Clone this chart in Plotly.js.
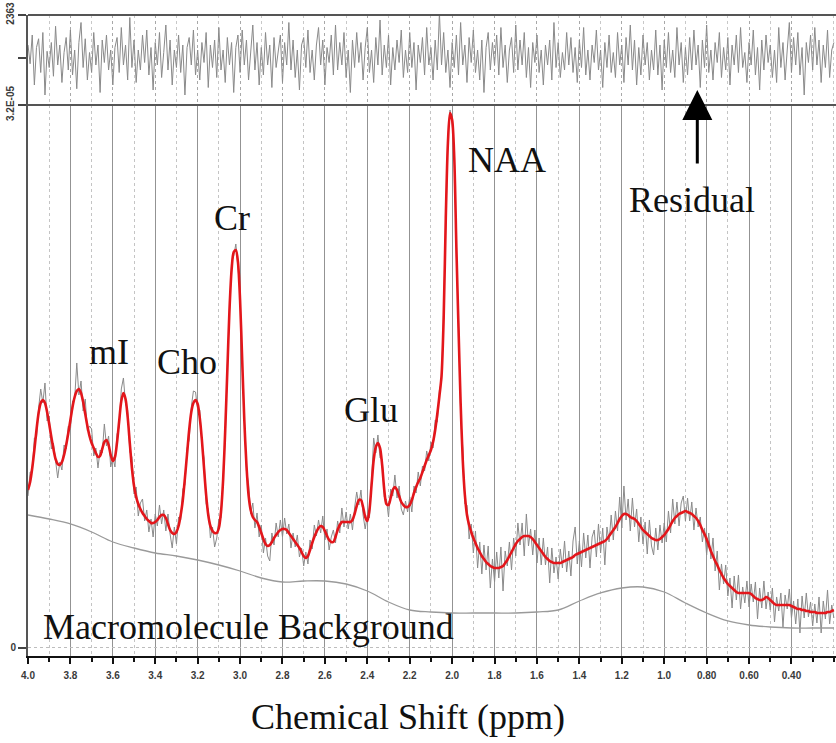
<!DOCTYPE html>
<html>
<head>
<meta charset="utf-8">
<script src="https://cdn.plot.ly/plotly-3.0.1.min.js"></script>
<style>html,body{margin:0;padding:0;background:#fff;}#chart{width:836px;height:743px;}</style>
</head>
<body>
<div id="chart"></div>
<script>
// Spectral grid: 4.00 ppm down to 0.20 ppm in 0.01 ppm steps (one value per sample below)
const PPM_START = 4.0;
const PPM_STEP = 0.01;

// LCModel fit (red), arbitrary units
const fit = [
158,166,180,198,218,235,245,248,245,236,
224,211,199,189,184,183,186,193,203,215,
228,241,251,257,259,255,246,234,222,212,
205,200,195,191,192,199,206,208,203,193,
187,191,206,227,247,255,249,231,205,180,
162,151,144,139,135,132,129,127,125,125,
126,128,131,133,133,130,124,118,115,114,
116,122,133,148,170,194,218,236,245,248,
244,230,208,180,153,133,122,117,115,115,
120,136,168,218,278,338,378,396,398,386,
348,288,228,183,153,138,131,128,126,121,
115,109,104,102,103,106,110,113,116,118,
119,119,118,115,112,109,106,103,100,96,
92,90,92,98,105,111,116,120,122,121,
117,112,108,106,106,111,118,123,126,126,
126,126,126,128,134,142,148,148,141,131,
127,138,163,188,201,205,200,183,158,144,
143,150,158,161,158,152,146,143,141,141,
143,148,155,161,166,170,176,182,188,193,
198,206,218,234,252,272,330,430,505,535,
528,490,400,320,245,188,153,133,123,116,
110,105,100,96,92,89,86,84,82,81,
80,80,80,81,82,85,88,92,96,100,
104,107,109,111,112,112,112,111,109,106,
103,100,97,94,91,89,87,86,85,85,
85,85,86,87,88,89,90,91,93,94,
95,96,97,98,99,100,101,102,103,104,
105,106,107,109,112,115,118,121,125,129,
132,134,134,133,131,130,129,127,124,121,
118,116,114,112,110,109,108,108,109,111,
113,116,119,123,127,130,132,134,135,136,
137,136,135,134,132,130,127,123,118,114,
109,103,97,92,87,83,78,74,70,67,
64,62,60,58,56,55,55,55,55,55,
55,54,52,50,49,48,48,49,51,50,
48,46,44,43,43,43,43,43,43,43,
42,41,40,39,39,38,38,37,37,36,
36,36,35,35,35,35,35,36,36,37,
38];

// Measured spectrum (grey, noisy)
const data = [
152,176,176,210,210,240,259,245,265,227,
232,199,205,184,170,186,178,203,199,222,
218,247,249,285,253,267,237,249,217,222,
219,192,200,180,198,195,224,202,212,181,
191,181,214,221,259,270,244,238,196,191,
154,161,132,145,149,127,138,116,129,111,
134,122,143,124,138,117,134,114,100,121,
104,131,128,159,163,200,208,241,257,256,
238,238,204,190,144,139,110,121,101,110,
129,130,175,210,283,332,386,392,404,381,
355,283,237,177,165,134,145,120,135,111,
123,95,110,92,87,115,103,125,111,128,
111,130,114,124,100,115,101,113,91,100,
82,96,84,108,99,123,112,128,115,132,
108,119,98,111,118,105,127,115,140,121,
136,119,134,118,140,156,143,158,133,119,
133,130,168,210,195,213,190,189,151,149,
131,159,152,173,150,162,139,133,147,136,
151,136,162,155,176,162,182,177,197,187,
206,200,228,226,258,267,338,424,509,538,
524,496,392,327,235,200,144,143,109,124,
95,117,80,106,74,103,78,102,60,89,
66,96,70,101,57,97,82,106,78,110,
92,125,103,125,92,134,102,119,93,118,
85,110,83,110,83,101,65,100,75,91,
69,99,80,107,76,97,72,107,121,84,
107,81,115,90,113,80,111,118,91,124,
95,120,83,121,106,133,108,137,117,151,
120,162,128,149,117,150,121,139,106,131,
104,126,94,128,102,93,120,98,123,105,
125,106,137,115,149,124,146,122,145,152,
127,150,127,146,118,140,121,131,106,120,
93,115,89,110,77,97,58,84,64,83,
52,70,40,72,48,73,39,61,45,67,
41,64,46,66,29,60,40,67,39,56,
38,60,26,51,37,55,21,53,39,59,
30,47,24,49,15,52,30,55,31,46,
22,44,25,51,15,47,29,58,24,43,
30];

// Residual (top panel)
const residual = [
10,-5,18,-22,8,15,-12,20,-30,5,
-8,12,-15,25,-6,10,-20,4,16,-10,
22,-14,6,-25,12,28,-8,15,-18,4,
-12,20,-6,10,-28,14,-4,18,-10,6,
-22,8,16,-12,24,-6,10,-18,32,-8,
14,-20,6,-10,18,-4,22,-14,8,-26,
12,-6,20,-16,4,26,-10,14,-22,6,
-8,18,-12,10,-30,8,16,-6,22,-14,
6,-18,12,-4,20,-24,10,-8,14,-16,
24,-10,6,-20,16,-6,12,-28,8,18,
-12,22,-6,14,-18,4,26,-10,12,-22,
8,-14,20,-6,10,-24,16,-8,4,18,
-20,12,-6,28,-10,14,-16,6,-26,10,
16,-8,22,-12,6,-18,10,24,-6,14,
-22,8,-4,18,-14,26,-10,12,-6,20,
-16,6,-28,14,-8,20,-4,12,-18,8,
24,-12,6,-20,16,-6,30,-14,10,-8,
18,-22,8,-10,14,-4,22,-16,6,-12,
20,-8,12,-26,10,-4,16,-14,24,-6,
8,-18,14,-10,36,-6,20,-12,6,-24,
12,-8,18,-14,28,-6,10,-20,16,-4,
22,-12,6,-18,14,-28,8,20,-10,12,
-6,18,-14,24,-8,10,-20,6,16,-12,
26,-10,14,-6,20,-16,8,-24,12,-4,
18,-12,6,-22,10,-6,14,-18,28,-8,
12,-16,4,-10,20,-6,16,-12,8,-20,
14,-8,24,-14,6,-18,10,-4,22,-10,
6,-24,12,-8,18,-12,4,-16,20,-6,
10,-20,16,-6,26,-10,14,-22,8,-14,
18,-6,12,-18,6,-10,22,-14,10,-26,
14,-8,20,-12,6,-16,24,-6,12,-20,
8,-14,16,-10,22,-6,10,-24,14,-8,
26,-12,6,-18,12,-4,20,-16,8,-10,
16,-22,10,-6,18,-12,24,-8,4,-20,
12,-6,22,-14,8,-26,14,-10,18,-4,
10,-16,6,-20,24,-8,12,-18,6,28,
-12,16,-6,20,-14,8,-30,12,-4,18,
-10,24,-6,14,-20,10,-8,22,-16,6,
12];

// Macromolecule background (smooth grey)
const bgPpm = [4.0,3.9,3.8,3.7,3.6,3.5,3.4,3.3,3.2,3.1,3.0,2.9,2.8,2.7,2.6,2.5,2.4,2.3,2.2,2.1,2.0,1.9,1.8,1.7,1.6,1.5,1.4,1.3,1.2,1.1,1.0,0.9,0.8,0.7,0.6,0.5,0.4,0.3,0.2];
const background = [133,129,124,116,106,100,95,92,88,83,77,70,66,67,67,64,57,46,38,36,35,35,35,35,36,38,47,55,60,61,56,45,35,27,23,21,20,20,20];

// Tick labels
const xTickVals = [4.0,3.8,3.6,3.4,3.2,3.0,2.8,2.6,2.4,2.2,2.0,1.8,1.6,1.4,1.2,1.0,0.8,0.6,0.4];
const xTickText = ['4.0','3.8','3.6','3.4','3.2','3.0','2.8','2.6','2.4','2.2','2.0','1.8','1.6','1.4','1.2','1.0','0.80','0.60','0.40'];
const resTickText = ['3.2E-05','','2363'];

const ppm = fit.map((_, i) => +(PPM_START - i * PPM_STEP).toFixed(2));

const traces = [
  {x: ppm, y: data, type: 'scatter', mode: 'lines', line: {color: '#8a8a8a', width: 1}, hoverinfo: 'skip'},
  {x: bgPpm, y: background, type: 'scatter', mode: 'lines', line: {color: '#9a9a9a', width: 1.3, shape: 'spline'}, hoverinfo: 'skip'},
  {x: ppm, y: fit, type: 'scatter', mode: 'lines', line: {color: '#e3161b', width: 2.6, shape: 'spline', smoothing: 0.8}, hoverinfo: 'skip'},
  {x: ppm, y: residual, xaxis: 'x2', yaxis: 'y2', type: 'scatter', mode: 'lines', line: {color: '#8a8a8a', width: 1}, hoverinfo: 'skip'}
];

const serif = 'Liberation Serif, Times New Roman, serif';
const labelFont = {family: serif, size: 36, color: '#111'};
const tickFont = {family: 'Liberation Sans, Arial, sans-serif', size: 10, color: '#3a3a3a', weight: 'bold'};
const split = 0.8596;

const layout = {
  width: 836, height: 743,
  margin: {l: 28, r: 0, t: 15, b: 87},
  paper_bgcolor: '#fff', plot_bgcolor: '#fff',
  showlegend: false,
  xaxis: {
    domain: [0, 1], anchor: 'y', range: [4.0, 0.19], autorange: false,
    tickmode: 'array', tickvals: xTickVals, ticktext: xTickText,
    ticks: 'outside', ticklen: 6, tickwidth: 2, tickcolor: '#111',
    ticklabelstandoff: 3,
    showline: true, linecolor: '#111', linewidth: 2,
    showgrid: true, gridcolor: '#939393', gridwidth: 1,
    zeroline: false,
    tickfont: tickFont,
    minor: {dtick: 0.1, tick0: 0, ticks: 'outside', ticklen: 4, tickwidth: 2, tickcolor: '#111',
            showgrid: true, gridcolor: '#c4c4c4', griddash: 'dot', gridwidth: 1}
  },
  xaxis2: {
    domain: [0, 1], anchor: 'y2', matches: 'x', range: [4.0, 0.19], autorange: false,
    tickmode: 'array', tickvals: xTickVals, showticklabels: false, ticks: '',
    showgrid: true, gridcolor: '#a8a8a8', griddash: 'dot', gridwidth: 1,
    zeroline: false, showline: false,
    minor: {dtick: 0.1, tick0: 0, showgrid: true, gridcolor: '#c8c8c8', griddash: 'dot', gridwidth: 1}
  },
  yaxis: {
    domain: [0, split], range: [-8, 543], autorange: false,
    tickmode: 'array', tickvals: [0], ticktext: ['0'],
    ticks: 'outside', ticklen: 8, tickwidth: 2, tickcolor: '#444',
    showline: true, linecolor: '#555', linewidth: 2,
    showgrid: true, gridcolor: '#bdbdbd', griddash: 'dot',
    zeroline: false,
    tickfont: tickFont
  },
  yaxis2: {
    domain: [split, 1], range: [-38, 34], autorange: false,
    tickmode: 'array', tickvals: [-38, 0, 34], ticktext: resTickText, tickangle: -90,
    ticks: 'outside', ticklen: 8, tickwidth: 2, tickcolor: '#444',
    showline: true, linecolor: '#555', linewidth: 2,
    showgrid: false, zeroline: false,
    tickfont: tickFont
  },
  shapes: [
    {type: 'line', xref: 'paper', yref: 'paper', x0: 0, x1: 1, y0: 1, y1: 1, line: {color: '#555', width: 2}},
    {type: 'line', xref: 'paper', yref: 'paper', x0: 0, x1: 1, y0: split, y1: split, line: {color: '#555', width: 2}}
  ],
  annotations: [
    {text: 'NAA', x: 1.741, y: 488, xref: 'x', yref: 'y', showarrow: false, font: labelFont, xanchor: 'center', yanchor: 'middle'},
    {text: 'Cr', x: 3.038, y: 430, xref: 'x', yref: 'y', showarrow: false, font: labelFont, xanchor: 'center', yanchor: 'middle'},
    {text: 'mI', x: 3.618, y: 296, xref: 'x', yref: 'y', showarrow: false, font: labelFont, xanchor: 'center', yanchor: 'middle'},
    {text: 'Cho', x: 3.25, y: 286, xref: 'x', yref: 'y', showarrow: false, font: labelFont, xanchor: 'center', yanchor: 'middle'},
    {text: 'Glu', x: 2.382, y: 238, xref: 'x', yref: 'y', showarrow: false, font: labelFont, xanchor: 'center', yanchor: 'middle'},
    {text: 'Residual', x: 0.868, y: 448, xref: 'x', yref: 'y', showarrow: false, font: labelFont, xanchor: 'center', yanchor: 'middle'},
    {text: 'Macromolecule Background', x: 2.962, y: 21, xref: 'x', yref: 'y', showarrow: false, font: labelFont, xanchor: 'center', yanchor: 'middle'},
    {text: 'Chemical Shift (ppm)', x: 0.4703, y: -0.0952, xref: 'paper', yref: 'paper', showarrow: false, font: labelFont, xanchor: 'center', yanchor: 'middle'},
    {text: '', x: 0.844, y: 0.883, xref: 'x', yref: 'paper', showarrow: true, ax: 0, ay: 75,
     arrowhead: 2, arrowsize: 2, arrowwidth: 3, arrowcolor: '#000'}
  ]
};

Plotly.newPlot('chart', traces, layout, {staticPlot: true, displayModeBar: false});
</script>
</body>
</html>
